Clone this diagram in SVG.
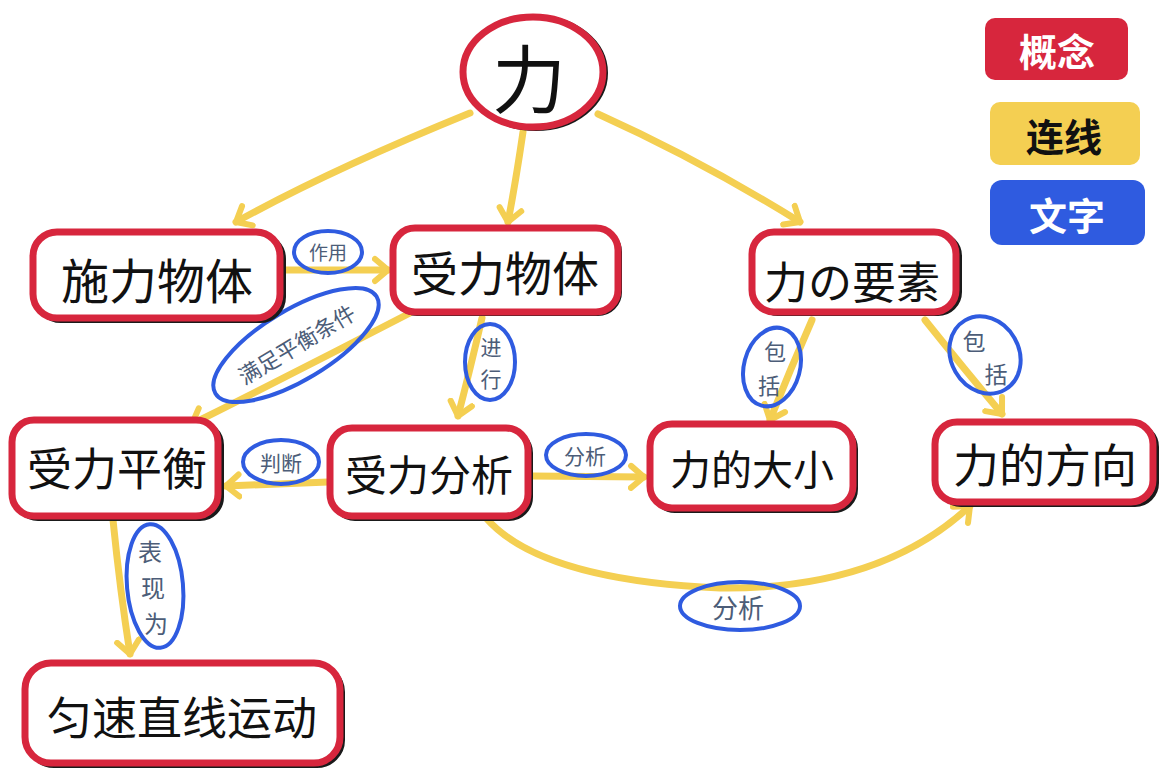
<svg xmlns="http://www.w3.org/2000/svg" width="1161" height="777" viewBox="0 0 1161 777">
<style>
.node{fill:#fff;stroke:#d7263d;stroke-width:7}
.shadow{fill:none;stroke:#1a1a1a;stroke-width:4}
.nt{font-family:"Noto Sans CJK SC","Noto Sans CJK JP",sans-serif;fill:#111;text-anchor:middle;dominant-baseline:central}
.conn{fill:none;stroke:#f4cf52;stroke-width:7;stroke-linecap:round}
.lab{fill:none;stroke:#2f5be0;stroke-width:4}
.lt{font-family:"Noto Sans CJK SC",sans-serif;fill:#4c5d78;text-anchor:middle;dominant-baseline:central}
.leg{font-family:"Noto Sans CJK SC",sans-serif;font-size:38px;font-weight:bold;text-anchor:middle;dominant-baseline:central}
</style>
<defs>
<marker id="ah" viewBox="-16 -16 32 32" refX="0" refY="0" markerWidth="32" markerHeight="32" markerUnits="userSpaceOnUse" orient="auto">
<path d="M -13 -11 L 0 0 L -13 11" fill="none" stroke="#f4cf52" stroke-width="6" stroke-linecap="round" stroke-linejoin="round"/>
</marker>
</defs>
<rect width="1161" height="777" fill="#fff"/>

<g id="connectors">
<path class="conn" d="M470 113 Q330 170 236 222" marker-end="url(#ah)"/>
<path class="conn" d="M523 132 Q516 180 508 222" marker-end="url(#ah)"/>
<path class="conn" d="M598 114 Q700 160 800 222" marker-end="url(#ah)"/>
<path class="conn" d="M286 270 L388 270" marker-end="url(#ah)"/>
<path class="conn" d="M410 313 Q300 370 192 424" marker-end="url(#ah)"/>
<path class="conn" d="M482 318 Q470 370 458 416" marker-end="url(#ah)"/>
<path class="conn" d="M328 482 L226 486" marker-end="url(#ah)"/>
<path class="conn" d="M532 476 L644 477" marker-end="url(#ah)"/>
<path class="conn" d="M812 320 Q790 370 770 420" marker-end="url(#ah)"/>
<path class="conn" d="M925 320 Q965 370 1002 414" marker-end="url(#ah)"/>
<path class="conn" d="M486 518 Q540 580 720 588 Q880 590 970 506" marker-end="url(#ah)"/>
<path class="conn" d="M113 520 Q120 590 130 654" marker-end="url(#ah)"/>
</g>

<g id="label-zuoyong"><ellipse class="lab" cx="328" cy="252" rx="34" ry="21" fill="#fff"/><text class="lt" x="328" y="251" style="font-size:19px">作用</text></g>
<g id="label-manzu"><ellipse class="lab" cx="296" cy="345" rx="94" ry="35" transform="rotate(-31 296 345)"/><text class="lt" x="296" y="343" transform="rotate(-31 296 343)" style="font-size:22px">满足平衡条件</text></g>
<g id="label-jinxing"><ellipse class="lab" cx="490" cy="362" rx="25" ry="38"/><text class="lt" x="491" y="346" style="font-size:21px">进</text><text class="lt" x="491" y="378" style="font-size:21px">行</text></g>
<g id="label-panduan"><ellipse class="lab" cx="281" cy="462" rx="38" ry="22" fill="#fff"/><text class="lt" x="281" y="462" style="font-size:21px">判断</text></g>
<g id="label-fenxi1"><ellipse class="lab" cx="586" cy="455" rx="40" ry="21" fill="#fff"/><text class="lt" x="585" y="455" style="font-size:21px">分析</text></g>
<g id="label-baokuo1"><ellipse class="lab" cx="772" cy="367" rx="28" ry="40" transform="rotate(15 772 367)"/><text class="lt" x="775" y="350" style="font-size:22px">包</text><text class="lt" x="769" y="384" style="font-size:22px">括</text></g>
<g id="label-baokuo2"><ellipse class="lab" cx="985" cy="355" rx="34" ry="40" transform="rotate(-30 985 355)"/><text class="lt" x="974" y="340" style="font-size:23px">包</text><text class="lt" x="996" y="373" style="font-size:23px">括</text></g>
<g id="label-fenxi2"><ellipse class="lab" cx="740" cy="606" rx="60" ry="24" fill="#fff"/><text class="lt" x="738" y="606" style="font-size:26px">分析</text></g>
<g id="label-biaoxianwei"><ellipse class="lab" cx="155" cy="586" rx="28" ry="62" transform="rotate(-5 155 586)"/><text class="lt" x="150" y="550" style="font-size:24px">表</text><text class="lt" x="153" y="586" style="font-size:24px">现</text><text class="lt" x="156" y="622" style="font-size:24px">为</text></g>

<g id="node-li">
<ellipse class="shadow" cx="536" cy="73" rx="70" ry="56"/>
<ellipse class="node" cx="533" cy="72" rx="70" ry="55"/>
<text class="nt" x="529" y="74" style="font-size:74px">力</text>
</g>
<g id="node-shili">
<rect class="shadow" x="37" y="235" width="247" height="86" rx="24"/>
<rect class="node" x="33" y="232" width="247" height="86" rx="24"/>
<text class="nt" x="157" y="278" style="font-size:48px">施力物体</text>
</g>
<g id="node-shouli">
<rect class="shadow" x="395" y="230" width="225" height="84" rx="22"/>
<rect class="node" x="393" y="228" width="225" height="84" rx="22"/>
<text class="nt" x="505" y="270" style="font-size:47px">受力物体</text>
</g>
<g id="node-yaosu">
<rect class="shadow" x="756" y="234" width="204" height="80" rx="22"/>
<rect class="node" x="752" y="232" width="204" height="80" rx="22"/>
<text class="nt" x="852" y="280" style="font-size:44px">力の要素</text>
</g>
<g id="node-pingheng">
<rect class="shadow" x="16" y="423" width="206" height="96" rx="22"/>
<rect class="node" x="12" y="420" width="206" height="96" rx="22"/>
<text class="nt" x="117" y="466" style="font-size:45px">受力平衡</text>
</g>
<g id="node-fenxi">
<rect class="shadow" x="333" y="431" width="198" height="88" rx="22"/>
<rect class="node" x="330" y="428" width="198" height="88" rx="22"/>
<text class="nt" x="429" y="472" style="font-size:42px">受力分析</text>
</g>
<g id="node-daxiao">
<rect class="shadow" x="653" y="427" width="203" height="84" rx="22"/>
<rect class="node" x="650" y="424" width="203" height="84" rx="22"/>
<text class="nt" x="752" y="467" style="font-size:41px">力的大小</text>
</g>
<g id="node-fangxiang">
<rect class="shadow" x="939" y="425" width="218" height="80" rx="22"/>
<rect class="node" x="935" y="422" width="218" height="80" rx="22"/>
<text class="nt" x="1045" y="462" style="font-size:46px">力的方向</text>
</g>
<g id="node-yunsu">
<rect class="shadow" x="28" y="666" width="315" height="100" rx="26"/>
<rect class="node" x="25" y="663" width="315" height="100" rx="26"/>
<text class="nt" x="182" y="715" style="font-size:45px">匀速直线运动</text>
</g>

<g id="legend">
<rect x="985" y="18" width="143" height="62" rx="10" fill="#d7263d"/>
<text class="leg" x="1057" y="49" fill="#fff">概念</text>
<rect x="990" y="102" width="150" height="63" rx="10" fill="#f4cf52"/>
<text class="leg" x="1064" y="134" fill="#111">连线</text>
<rect x="990" y="180" width="155" height="65" rx="12" fill="#2f5be0"/>
<text class="leg" x="1067" y="213" fill="#fff">文字</text>
</g>
</svg>
